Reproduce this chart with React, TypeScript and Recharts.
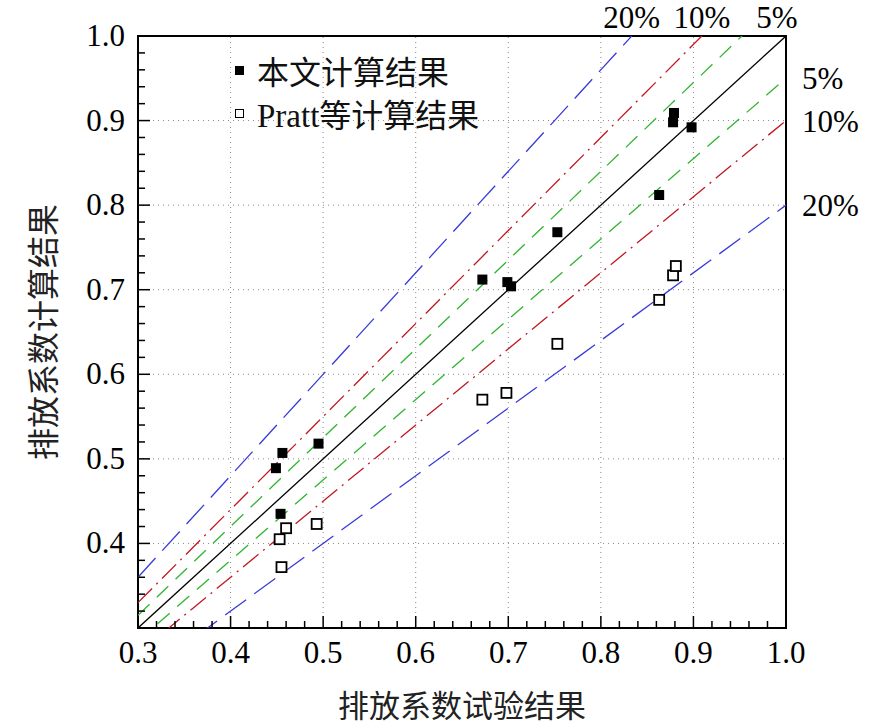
import {
  ReferenceArea,
  ReferenceDot,
  ReferenceLine,
  Scatter,
  ScatterChart,
  XAxis,
  YAxis,
  Label,
} from 'recharts';

const SERIF = '"Liberation Serif", "Times New Roman", serif';
const CJK = '"Noto Sans CJK SC", "Noto Sans CJK JP", sans-serif';

// 本文计算结果 (filled squares)
const thisPaper = [
  { x: 0.449, y: 0.489 },
  { x: 0.456, y: 0.507 },
  { x: 0.495, y: 0.518 },
  { x: 0.454, y: 0.435 },
  { x: 0.672, y: 0.712 },
  { x: 0.699, y: 0.709 },
  { x: 0.703, y: 0.704 },
  { x: 0.753, y: 0.768 },
  { x: 0.863, y: 0.812 },
  { x: 0.879, y: 0.909 },
  { x: 0.878, y: 0.898 },
  { x: 0.898, y: 0.892 },
];

// Pratt等计算结果 (open squares)
const pratt = [
  { x: 0.455, y: 0.372 },
  { x: 0.453, y: 0.405 },
  { x: 0.46, y: 0.418 },
  { x: 0.493, y: 0.423 },
  { x: 0.672, y: 0.57 },
  { x: 0.698, y: 0.578 },
  { x: 0.753, y: 0.636 },
  { x: 0.863, y: 0.688 },
  { x: 0.878, y: 0.717 },
  { x: 0.881, y: 0.728 },
];

// relative error bands: y = (1 + e) * x
const errorBands = [0, 0.05, -0.05, 0.1, -0.1, 0.2, -0.2];
const topLabels = [
  { text: '20%', e: 0.2 },
  { text: '10%', e: 0.1 },
  { text: '5%', e: 0.05 },
];
const rightLabels = [
  { text: '5%', e: 0.05 },
  { text: '10%', e: 0.1 },
  { text: '20%', e: 0.2 },
];

const majorTicks = [0.3, 0.4, 0.5, 0.6, 0.7, 0.8, 0.9, 1.0];
const gridValues = [0.4, 0.5, 0.6, 0.7, 0.8, 0.9];
const allTicks = [
  0.3, 0.32, 0.34, 0.36, 0.38, 0.4, 0.42, 0.44, 0.46, 0.48, 0.5, 0.52, 0.54, 0.56, 0.58, 0.6,
  0.62, 0.64, 0.66, 0.68, 0.7, 0.72, 0.74, 0.76, 0.78, 0.8, 0.82, 0.84, 0.86, 0.88, 0.9, 0.92,
  0.94, 0.96, 0.98, 1.0,
];

const bandStyle = (e: number) => {
  const m = Math.round(Math.abs(e) * 100);
  if (m === 5) return { stroke: '#2fb52f', strokeDasharray: '16 10' };
  if (m === 10) return { stroke: '#c01820', strokeDasharray: '20 6 2 6' };
  if (m === 20) return { stroke: '#3a3ad8', strokeDasharray: '26 10' };
  return { stroke: '#000', strokeDasharray: undefined };
};

const isMajor = (v: number) => majorTicks.some((m) => Math.abs(m - v) < 1e-6);

const XTick = (props: any) => {
  const { x, y, payload } = props;
  const major = isMajor(payload.value);
  return (
    <g>
      <line x1={x} x2={x} y1={y} y2={y - (major ? 12 : 7)} stroke="#000" strokeWidth={1.5} />
      {major && (
        <text x={x} y={y + 35} textAnchor="middle" fontSize={31} fontFamily={SERIF} fill="#000">
          {payload.value.toFixed(1)}
        </text>
      )}
    </g>
  );
};

const YTick = (props: any) => {
  const { x, y, payload } = props;
  const major = isMajor(payload.value);
  const showLabel = major && payload.value > 0.31;
  return (
    <g>
      <line x1={x} x2={x + (major ? 12 : 7)} y1={y} y2={y} stroke="#000" strokeWidth={1.5} />
      {showLabel && (
        <text x={x - 13} y={y + 10} textAnchor="end" fontSize={31} fontFamily={SERIF} fill="#000">
          {payload.value.toFixed(1)}
        </text>
      )}
    </g>
  );
};

const FilledSquare = (props: any) => {
  const { cx, cy } = props;
  return <rect x={cx - 5} y={cy - 5} width={10} height={10} fill="#000" />;
};

const OpenSquare = (props: any) => {
  const { cx, cy } = props;
  return (
    <rect x={cx - 5} y={cy - 5} width={10} height={10} fill="#fff" stroke="#000" strokeWidth={1.8} />
  );
};

const YTitle = (props: any) => {
  const { viewBox } = props;
  const cx = 41;
  const cy = viewBox.y + viewBox.height / 2;
  return (
    <text
      x={cx}
      y={cy}
      transform={`rotate(-90 ${cx} ${cy})`}
      textAnchor="middle"
      dominantBaseline="central"
      fontSize={32}
      fontFamily={CJK}
      fill="#222"
    >
      排放系数计算结果
    </text>
  );
};

const XTitle = (props: any) => {
  const { viewBox } = props;
  const cx = viewBox.x + viewBox.width / 2;
  return (
    <text x={cx} y={703} textAnchor="middle" dominantBaseline="central" fontSize={31} fontFamily={CJK} fill="#222">
      排放系数试验结果
    </text>
  );
};

const LegendBox = () => (
  <div style={{ position: 'absolute', left: 0, top: 0, pointerEvents: 'none' }}>
    <div style={{ position: 'absolute', left: 235, top: 66, width: 9, height: 9, background: '#000' }} />
    <div
      style={{
        position: 'absolute',
        left: 257,
        top: 50,
        height: 40,
        lineHeight: '40px',
        fontSize: 32,
        fontFamily: CJK,
        whiteSpace: 'nowrap',
        color: '#111',
      }}
    >
      本文计算结果
    </div>
    <div
      style={{
        position: 'absolute',
        left: 235,
        top: 109,
        width: 7,
        height: 7,
        border: '1.5px solid #000',
        background: '#fff',
      }}
    />
    <div
      style={{
        position: 'absolute',
        left: 257,
        top: 93,
        height: 40,
        lineHeight: '40px',
        fontSize: 32,
        whiteSpace: 'nowrap',
        color: '#111',
      }}
    >
      <span style={{ fontFamily: SERIF, fontSize: 33 }}>Pratt</span>
      <span style={{ fontFamily: CJK }}>等计算结果</span>
    </div>
  </div>
);

export default function App() {
  return (
    <div style={{ position: 'absolute', left: 0, top: 0, width: 886, height: 728, background: '#fff' }}>
      <ScatterChart width={886} height={728} margin={{ top: 36, right: 100, bottom: 0, left: 0 }}>
        <XAxis
          type="number"
          dataKey="x"
          domain={[0.3, 1]}
          allowDataOverflow
          ticks={allTicks}
          interval={0}
          height={100}
          axisLine={false}
          tickLine={false}
          tickSize={0}
          tickMargin={0}
          tick={<XTick />}
        >
          <Label content={<XTitle />} />
        </XAxis>
        <YAxis
          type="number"
          dataKey="y"
          domain={[0.3, 1]}
          allowDataOverflow
          ticks={allTicks}
          interval={0}
          width={138}
          axisLine={false}
          tickLine={false}
          tickSize={0}
          tickMargin={0}
          tick={<YTick />}
        >
          <Label content={<YTitle />} />
        </YAxis>

        {gridValues.map((v) => (
          <ReferenceLine key={`gx${v}`} x={v} stroke="#888" strokeDasharray="1 4" strokeWidth={1} />
        ))}
        {gridValues.map((v) => (
          <ReferenceLine key={`gy${v}`} y={v} stroke="#888" strokeDasharray="1 4" strokeWidth={1} />
        ))}

        {errorBands.map((e) => {
          const s = bandStyle(e);
          return (
            <ReferenceLine
              key={`band${e}`}
              segment={[
                { x: 0.3, y: 0.3 * (1 + e) },
                { x: 1.0, y: 1.0 * (1 + e) },
              ]}
              ifOverflow="hidden"
              stroke={s.stroke}
              strokeDasharray={s.strokeDasharray}
              strokeWidth={1.3}
            />
          );
        })}

        <Scatter data={thisPaper} shape={<FilledSquare />} isAnimationActive={false} />
        <Scatter data={pratt} shape={<OpenSquare />} isAnimationActive={false} />

        {topLabels.map((l) => (
          <ReferenceDot
            key={`t${l.text}`}
            x={1 / (1 + l.e)}
            y={1}
            r={0}
            ifOverflow="visible"
            fill="none"
            stroke="none"
            label={{
              value: l.text,
              position: 'top',
              offset: 8,
              fontSize: 31,
              fontFamily: SERIF,
              fill: '#000',
              dx: l.e === 0.05 ? 35 : 0,
            }}
          />
        ))}
        {rightLabels.map((l) => (
          <ReferenceDot
            key={`r${l.text}`}
            x={1}
            y={1 - l.e}
            r={0}
            ifOverflow="visible"
            fill="none"
            stroke="none"
            label={{
              value: l.text,
              position: 'right',
              offset: 16,
              fontSize: 31,
              fontFamily: SERIF,
              fill: '#000',
            }}
          />
        ))}

        <ReferenceArea x1={0.3} x2={1} y1={0.3} y2={1} fill="none" stroke="#000" strokeWidth={2} ifOverflow="visible" />
      </ScatterChart>
      <LegendBox />
    </div>
  );
}
